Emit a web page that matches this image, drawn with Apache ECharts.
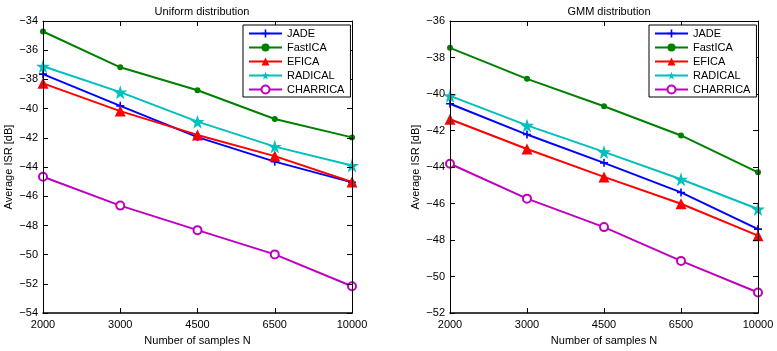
<!DOCTYPE html>
<html><head><meta charset="utf-8">
<script src="https://cdn.jsdelivr.net/npm/echarts@6/dist/echarts.min.js"></script>
<style>html,body{margin:0;padding:0;background:#fff}#c{width:777px;height:351px}</style>
</head><body><div id="c"></div>
<script>
const categories = ['2000','3000','4500','6500','10000'];
const seriesNames = ['JADE','FastICA','EFICA','RADICAL','CHARRICA'];
// Uniform distribution
const uniJADE     = [-37.64, -39.81, -41.95, -43.63, -45.05];
const uniFastICA  = [-34.72, -37.17, -38.74, -40.71, -41.97];
const uniEFICA    = [-38.27, -40.17, -41.80, -43.25, -45.02];
const uniRADICAL  = [-37.10, -38.87, -40.89, -42.60, -43.90];
const uniCHARRICA = [-44.66, -46.64, -48.32, -49.98, -52.16];
// GMM distribution
const gmmJADE     = [-40.53, -42.22, -43.77, -45.39, -47.40];
const gmmFastICA  = [-37.47, -39.17, -40.67, -42.27, -44.29];
const gmmEFICA    = [-41.38, -43.01, -44.54, -46.01, -47.76];
const gmmRADICAL  = [-40.10, -41.72, -43.17, -44.67, -46.30];
const gmmCHARRICA = [-43.82, -45.73, -47.29, -49.14, -50.87];
const titles = ['Uniform distribution','GMM distribution'];
const yLimits = [[-54,-34],[-52,-36]];

const colors = ['#0000ff','#008000','#ff0000','#00bfbf','#bf00bf'];
const plusPath = 'path://M4,0h2v4h4v2h-4v4h-2v-4h-4v-2h4z';
const starPath = 'path://M50,0 L61,35 L98,35 L68,57 L79,91 L50,70 L21,91 L32,57 L2,35 L39,35 Z';
const symbols = [plusPath,'circle','triangle',starPath,'emptyCircle'];
const symSizes = [8,6,11,14,8];

const font = 'Liberation Sans, Arial, sans-serif';
const minus = v => String(v).replace('-', '\u2212');

const grids = [
  {left:43, right:425, top:21, bottom:33},
  {left:450, right:19, top:21, bottom:33}
];
const xAxes = [], yAxes = [], series = [], legends = [], titleComps = [];
const dataSets = [
  [uniJADE, uniFastICA, uniEFICA, uniRADICAL, uniCHARRICA],
  [gmmJADE, gmmFastICA, gmmEFICA, gmmRADICAL, gmmCHARRICA]
];
const centers = [197, 604];
const legendLeft = [243, 649];
for (let g = 0; g < 2; g++) {
  const line = {show:true, lineStyle:{color:'#000', width:1}};
  const tick = {show:true, inside:true, length:5, lineStyle:{color:'#000', width:1}};
  xAxes.push({gridIndex:g, type:'category', data:categories, boundaryGap:false, position:'bottom',
    axisLine:{show:true, lineStyle:{color:'#000', width:1.5}}, axisTick:tick,
    axisLabel:{color:'#000', fontSize:11, fontFamily:font, margin:6},
    name:'Number of samples N', nameLocation:'middle', nameGap:18,
    nameTextStyle:{color:'#000', fontSize:11, fontFamily:font}, z:5});
  xAxes.push({gridIndex:g, type:'category', data:categories, boundaryGap:false, position:'top',
    axisLine:line, axisTick:tick, axisLabel:{show:false}, z:5});
  yAxes.push({gridIndex:g, type:'value', min:yLimits[g][0], max:yLimits[g][1], interval:2, position:'left',
    axisLine:line, axisTick:tick, splitLine:{show:false},
    axisLabel:{color:'#000', fontSize:11, fontFamily:font, margin:5, formatter:minus},
    name:'Average ISR [dB]', nameLocation:'middle', nameGap:29,
    nameTextStyle:{color:'#000', fontSize:11, fontFamily:font}, z:5});
  yAxes.push({gridIndex:g, type:'value', min:yLimits[g][0], max:yLimits[g][1], interval:2, position:'right',
    axisLine:line, axisTick:tick, splitLine:{show:false}, axisLabel:{show:false}, z:5});
  titleComps.push({text:titles[g], left:centers[g], top:1, textAlign:'center',
    textStyle:{fontSize:11, fontWeight:'normal', color:'#000', fontFamily:font}});
  legends.push({orient:'vertical', left:legendLeft[g], top:25, width:104,
    data:seriesNames, backgroundColor:'#fff', borderColor:'#000', borderWidth:1,
    padding:[3,6,2,5], itemGap:3, itemWidth:33, itemHeight:10,
    textStyle:{fontSize:11, color:'#000', fontFamily:font}, selectedMode:false, z:10});
  for (let s = 0; s < 5; s++) {
    series.push({name:seriesNames[s], type:'line', xAxisIndex:g*2, yAxisIndex:g*2,
      data:dataSets[g][s], symbol:symbols[s], symbolSize:symSizes[s], showAllSymbol:true,
      color:colors[s], lineStyle:{color:colors[s], width:2},
      itemStyle:{color:colors[s], borderColor:colors[s], borderWidth: s===4 ? 1.5 : 0},
      z:3, animation:false});
  }
}
const chart = echarts.init(document.getElementById('c'), null, {renderer:'canvas'});
chart.setOption({animation:false, backgroundColor:'#fff', title:titleComps, grid:grids,
  xAxis:xAxes, yAxis:yAxes, legend:legends, series:series});
</script></body></html>
